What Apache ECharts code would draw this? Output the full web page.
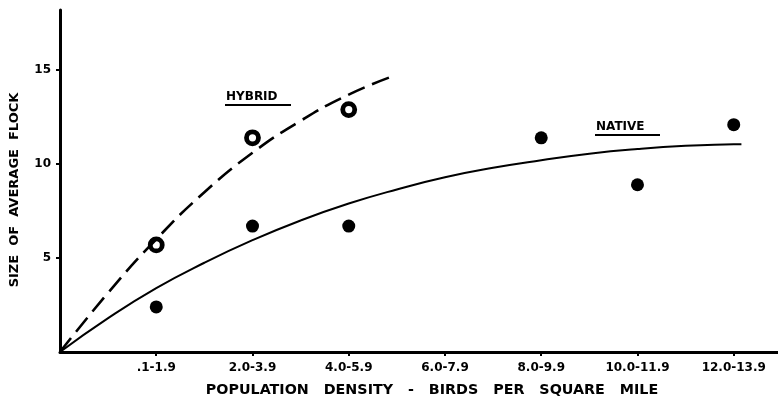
<!DOCTYPE html>
<html>
<head>
<meta charset="utf-8">
<script src="https://cdn.jsdelivr.net/npm/echarts@6/dist/echarts.min.js"></script>
<style>
  html, body { margin: 0; padding: 0; background: #fff; }
  #chart { width: 778px; height: 402px; }
</style>
</head>
<body>
<div id="chart"></div>
<script>
// density classes (birds per square mile), placed at x = 1..7
var categories = [".1-1.9", "2.0-3.9", "4.0-5.9", "6.0-7.9", "8.0-9.9", "10.0-11.9", "12.0-13.9"];
var xTicks = [1, 2, 3, 4, 5, 6, 7];
var yTicks = [5, 10, 15];

// observed average flock sizes
var nativePoints = [[1, 2.4], [2, 6.7], [3, 6.7], [5, 11.4], [6, 8.9], [7, 12.1]];
var hybridPoints = [[1, 5.7], [2, 11.4], [3, 12.9]];

// fitted curves
var nativeCurve = [[0, 0], [0.5, 1.8], [1, 3.4], [1.5, 4.75], [2, 5.95], [2.5, 7.0], [3, 7.9], [3.5, 8.65],
  [4, 9.3], [4.5, 9.8], [5, 10.2], [5.5, 10.55], [6, 10.8], [6.5, 10.97], [7, 11.05], [7.08, 11.06]];
var hybridCurve = [[0, 0], [0.5, 3.15], [1, 6.0], [1.5, 8.5], [2, 10.6], [2.5, 12.3], [3, 13.7], [3.47, 14.7]];

var font = "DejaVu Sans";
var ink = "#000";
var chart = echarts.init(document.getElementById("chart"));

var option = {
  animation: false,
  grid: { left: 57, right: 0, top: 10, bottom: 45 },
  xAxis: {
    type: "value",
    min: 0,
    max: 7.46,
    name: "POPULATION   DENSITY   -   BIRDS   PER   SQUARE   MILE",
    nameLocation: "middle",
    nameGap: 31,
    nameTextStyle: { color: ink, fontFamily: font, fontWeight: "bold", fontSize: 14.3, padding: [0, 0, 0, 26] },
    splitLine: { show: false },
    axisLine: { lineStyle: { color: ink, width: 3 } },
    axisTick: { customValues: xTicks, length: 4, lineStyle: { color: ink, width: 2 } },
    axisLabel: {
      customValues: xTicks,
      color: ink, fontFamily: font, fontWeight: "bold", fontSize: 12, margin: 10,
      formatter: function (v) { return categories[Math.round(v) - 1] || ""; }
    }
  },
  yAxis: {
    type: "value",
    min: 0,
    max: 18.2,
    name: "SIZE  OF  AVERAGE  FLOCK",
    nameLocation: "middle",
    nameGap: 39,
    nameTextStyle: { color: ink, fontFamily: font, fontWeight: "bold", fontSize: 13, padding: [0, 18, 0, 0] },
    splitLine: { show: false },
    axisLine: { show: true, lineStyle: { color: ink, width: 3 } },
    axisTick: { show: true, customValues: yTicks, length: 4, lineStyle: { color: ink, width: 2 } },
    axisLabel: { customValues: yTicks, color: ink, fontFamily: font, fontWeight: "bold", fontSize: 12, margin: 9 }
  },
  series: [
    {
      name: "NATIVE curve",
      type: "line",
      data: nativeCurve,
      smooth: true,
      showSymbol: false,
      lineStyle: { color: ink, width: 2 }
    },
    {
      name: "HYBRID curve",
      type: "line",
      data: hybridCurve,
      smooth: true,
      showSymbol: false,
      lineStyle: { color: ink, width: 2.6, type: [18, 8] }
    },
    {
      name: "NATIVE",
      type: "scatter",
      data: nativePoints,
      symbolSize: 13,
      itemStyle: { color: ink, opacity: 1 }
    },
    {
      name: "HYBRID",
      type: "scatter",
      data: hybridPoints,
      symbolSize: 12,
      itemStyle: { color: "#fff", borderColor: ink, borderWidth: 4.8, opacity: 1 }
    }
  ],
  graphic: [
    { type: "text", left: 226, top: 91, style: { text: "HYBRID", fill: ink, font: "bold 12px '" + font + "'" } },
    { type: "line", shape: { x1: 225, y1: 105, x2: 291, y2: 105 }, style: { stroke: ink, lineWidth: 2 } },
    { type: "text", left: 596, top: 121, style: { text: "NATIVE", fill: ink, font: "bold 12px '" + font + "'" } },
    { type: "line", shape: { x1: 595, y1: 135, x2: 660, y2: 135 }, style: { stroke: ink, lineWidth: 2 } }
  ]
};

chart.setOption(option);
window.addEventListener("resize", function () {
  chart.resize();
});
</script>
</body>
</html>
